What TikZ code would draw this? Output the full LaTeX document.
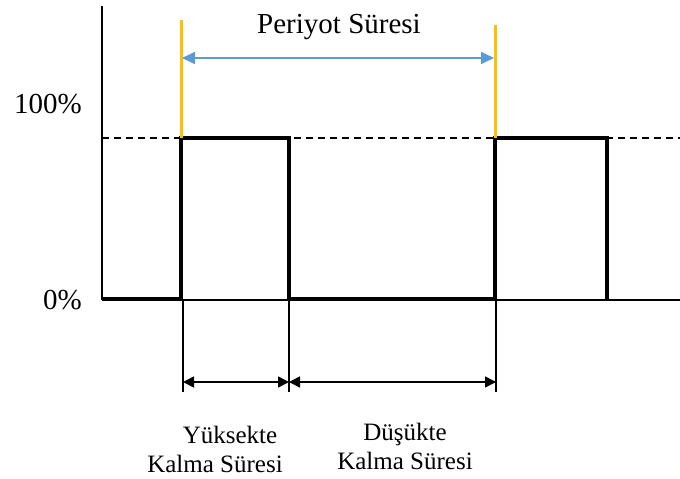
\documentclass[tikz,border=0pt]{standalone}
\usepackage{fontspec}
\setmainfont{Liberation Serif}
\usetikzlibrary{arrows.meta}
\definecolor{edgeyellow}{RGB}{255,192,0}
\definecolor{periodblue}{RGB}{91,155,213}
\tikzset{
  axisline/.style={line width=2.2pt,black},
  baseline/.style={line width=1.6pt,black},
  levelline/.style={line width=2pt,black,dash pattern=on 7pt off 5pt},
  signal/.style={line width=4.6pt,black,line join=miter},
  edgemark/.style={line width=3pt,edgeyellow},
  periodarrow/.style={line width=1.7pt,periodblue,{Triangle[length=13pt,width=12pt]}-{Triangle[length=13pt,width=12pt]}},
  guide/.style={line width=2.3pt,black},
  spanarrow/.style={line width=1.6pt,black,{Triangle[length=11pt,width=11pt]}-{Triangle[length=11pt,width=11pt]}},
  biglabel/.style={font=\fontsize{29}{33}\selectfont,inner sep=0pt},
  smalllabel/.style={font=\fontsize{25}{29}\selectfont,inner sep=0pt,align=center}
}
\begin{document}
\begin{tikzpicture}[x=1pt,y=-1pt]
\useasboundingbox (0,0) rectangle (680,479);
% axes and reference levels
\coordinate (axtop) at (102,6);
\coordinate (axbot) at (102,300);
\coordinate (zeroend) at (680,300);
\coordinate (fullstart) at (102,138);
\coordinate (fullend) at (680,138);
\draw[axisline] (axtop) -- (axbot);
\draw[baseline] (axbot) -- (zeroend);
\draw[levelline] (fullstart) -- (fullend);
% pulse corners
\coordinate (s0) at (102,299);
\coordinate (r1b) at (181,299);
\coordinate (r1t) at (181,138);
\coordinate (f1t) at (289,138);
\coordinate (f1b) at (289,299);
\coordinate (r2b) at (495,299);
\coordinate (r2t) at (495,138);
\coordinate (f2t) at (607,138);
\coordinate (f2b) at (607,299);
\draw[signal] (s0) -- (r1b) -- (r1t) -- (f1t) -- (f1b) -- (r2b) -- (r2t) -- (f2t) -- (f2b);
% period markers
\coordinate (y1top) at (181,20);
\coordinate (y2top) at (495,25);
\draw[edgemark] (y1top) -- (r1t);
\draw[edgemark] (y2top) -- (r2t);
\coordinate (pa) at (182,58);
\coordinate (pb) at (494,58);
\draw[periodarrow] (pa) -- (pb);
\node[biglabel] (period) at (339,27) {Periyot Süresi};
% level labels
\node[biglabel,anchor=east] (full) at (82,104) {100\%};
\node[biglabel,anchor=east] (zero) at (82,300) {0\%};
% high / low duration markers
\coordinate (g1a) at (183,300);
\coordinate (g1b) at (183,392);
\coordinate (g2a) at (289,300);
\coordinate (g2b) at (289,392);
\coordinate (g3a) at (496,300);
\coordinate (g3b) at (496,392);
\draw[guide] (g1a) -- (g1b);
\draw[guide] (g2a) -- (g2b);
\draw[guide] (g3a) -- (g3b);
\coordinate (h1) at (183,382);
\coordinate (h2) at (289,382);
\coordinate (h3) at (496,382);
\draw[spanarrow] (h1) -- (h2);
\draw[spanarrow] (h2) -- (h3);
\node[smalllabel] (high) at (215,449) {\hspace*{1.2em}Yüksekte\\Kalma Süresi};
\node[smalllabel] (low) at (405,446) {Düşükte\\Kalma Süresi};
\end{tikzpicture}
\end{document}
